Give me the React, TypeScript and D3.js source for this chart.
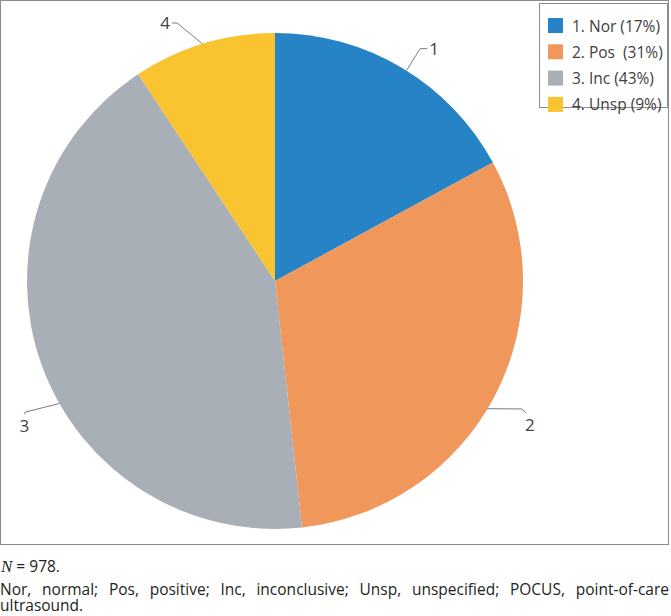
import React from 'react';
import * as d3 from 'd3';

// POCUS result categories, N = 978
const categories = ['Nor', 'Pos', 'Inc', 'Unsp'];
const counts = [167, 305, 415, 91];
const sliceLabels = ['1', '2', '3', '4'];
const legendLabels = ['1. Nor (17%)', '2. Pos  (31%)', '3. Inc (43%)', '4. Unsp (9%)'];
const colors = ['#2683C6', '#F0975B', '#A9AFB7', '#F9C42F'];
const nTotal = 978;
const footLine1 = 'Nor, normal; Pos, positive; Inc, inconclusive; Unsp, unspecified; POCUS, point-of-care';
const footLine2 = 'ultrasound.';

// leader line layout per slice (angles in degrees clockwise from top)
const leaders = [
  { a0: 32, a1: 32, r1: 274, tx: 7, ty: 0, lx: 2, ly: 6, anchor: 'start' },
  { a0: 121, a1: 117.4, r1: 278, tx: 4, ty: 4, lx: 4, ly: 18, anchor: 'middle' },
  { a0: 240.4, a1: 242.3, r1: 282, tx: -1, ty: 2, lx: 0, ly: 18, anchor: 'middle' },
  { a0: 343, a1: 339.2, r1: 276, tx: -5, ty: 0, lx: -2, ly: 6, anchor: 'end' },
];

const W = 671;
const H = 616;
const frameW = 669;
const frameH = 545;
const cx = 275;
const cy = 281;
const R = 248;
const font = '"Open Sans", Lato, "DejaVu Sans", sans-serif';
const footSize = 15.5;

const polar = (deg: number, r: number) => {
  const a = (deg * Math.PI) / 180;
  return [cx + r * Math.sin(a), cy - r * Math.cos(a)];
};

function justify(text: string, width: number, size: number) {
  const words = text.split(' ');
  const ctx = document.createElement('canvas').getContext('2d');
  ctx.font = `${size}px "Open Sans"`;
  const widths = words.map((w) => ctx.measureText(w).width);
  const gap = Math.max(4, (width - d3.sum(widths)) / (words.length - 1));
  let x = 0;
  return words.map((w, i) => {
    const out = { w, x };
    x += widths[i] + gap;
    return out;
  });
}

export default function App() {
  const pie = d3.pie<number>().sort(null).value((d) => d)(counts);
  const arc = d3.arc<d3.PieArcDatum<number>>().innerRadius(0).outerRadius(R);
  const footWords = justify(footLine1, frameW, footSize);

  return (
    <svg width={W} height={H} style={{ position: 'absolute', left: 0, top: 0 }}>
      <rect x={0.5} y={0.5} width={frameW - 1} height={frameH - 1} fill="white" stroke="#8c8c8c" />
      <g>
        {pie.map((d, i) => (
          <path key={categories[i]} d={arc(d)} transform={`translate(${cx},${cy})`} fill={colors[i]} />
        ))}
      </g>
      <g fontFamily={font} fontSize={17} fill="#404040">
        {leaders.map((l, i) => {
          const [x0, y0] = polar(l.a0, R);
          const [x1, y1] = polar(l.a1, l.r1);
          const x2 = x1 + l.tx;
          const y2 = y1 + l.ty;
          return (
            <g key={i}>
              <polyline points={`${x0},${y0} ${x1},${y1} ${x2},${y2}`} fill="none" stroke="#595959" strokeWidth={0.8} />
              <text x={x2 + l.lx} y={y2 + l.ly} textAnchor={l.anchor}>{sliceLabels[i]}</text>
            </g>
          );
        })}
      </g>
      <g fontFamily={font} fontSize={15.5} fill="#404040">
        <rect x={539.5} y={3.5} width={128} height={104} fill="white" stroke="#8c8c8c" />
        {legendLabels.map((t, i) => (
          <g key={t} transform={`translate(548,${18 + i * 26.3})`}>
            <rect width={15} height={15} fill={colors[i]} />
            <text x={24} y={13.5} xmlSpace="preserve">{t}</text>
          </g>
        ))}
      </g>
      <g fontFamily={font} fontSize={footSize} fill="#231f20">
        <text x={1} y={572}>
          <tspan fontFamily='"Liberation Serif", serif' fontStyle="italic" fontSize={17}>N</tspan>
          <tspan> = {nTotal}.</tspan>
        </text>
        {footWords.map((d, i) => (
          <text key={i} x={d.x} y={595}>{d.w}</text>
        ))}
        <text x={0} y={611}>{footLine2}</text>
      </g>
    </svg>
  );
}
